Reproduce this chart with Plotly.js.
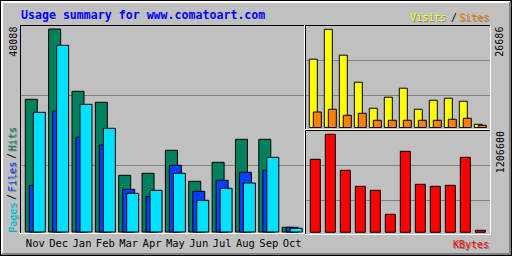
<!DOCTYPE html>
<html>
<head>
<meta charset="utf-8">
<script src="https://cdn.plot.ly/plotly-3.0.1.min.js"></script>
<style>html,body{margin:0;padding:0;background:#C0C0C0;}#chart{width:512px;height:256px;}</style>
</head>
<body>
<div id="chart"></div>
<script>
const months = ['Nov','Dec','Jan','Feb','Mar','Apr','May','Jun','Jul','Aug','Sep','Oct'];
const hits   = [31436,48088,33331,30725,13432,13906,19354,12010,16511,21960,21960,1113];
const files  = [11063,28664,22434,20610,10115,8457,15801,9641,12247,14142,14616,1113];
const pages  = [28356,44228,30251,24566,9168,9878,13906,7509,10352,11608,17696,876];
const visits = [18571,26686,19660,12308,5228,8223,10674,4956,7407,7951,7134,871];
const sites  = [4221,4956,3322,3867,1961,1961,1961,1961,1961,2233,2505,599];
const kbytes = [898800,1206600,763300,566400,517100,221600,997300,591000,566400,578700,923400,24600];
const titleText = 'Usage summary for www.comatoart.com';

const W = 512, H = 256;
const X = px => px / W;
const Y = py => 1 - py / H;
const idx = months.map((_, i) => i);

const C = {hits:'#00805C', files:'#0040FF', pages:'#00E0FF', visits:'#FFFF00', sites:'#FF8000', kbytes:'#FF0000', grid:'#808080', shadow:'#808080'};
const mono = 'DejaVu Sans Mono, monospace';
const line = {color:'#000000', width:1};

// main panel geometry (px)
const mainStep = 23.35, mainC0 = 35.3;
const sideStep = 15, sideC0 = 315.3;

const maxHits = Math.max(...hits), maxVisits = Math.max(...visits), maxKB = Math.max(...kbytes);
const mainUnit = maxHits / (232 - 29);
const topUnit = maxVisits / (127.5 - 29.3);
const botUnit = maxKB / (232.3 - 134.3);

function bar(x, y, color, off, wid, xa, ya) {
  return {type:'bar', x:x, y:y, offset:off, width:wid, marker:{color:color, line:line},
          xaxis:xa, yaxis:ya, hoverinfo:'skip', showlegend:false};
}

const data = [
  bar(idx, hits,  C.hits,  -10/mainStep, 12/mainStep, 'x', 'y'),
  bar(idx, files, C.files, -6/mainStep,  12/mainStep, 'x', 'y'),
  bar(idx, pages, C.pages, -2/mainStep,  12/mainStep, 'x', 'y'),
  bar(idx, visits, C.visits, -6/sideStep, 8/sideStep, 'x2', 'y2'),
  bar(idx, sites,  C.sites,  -2/sideStep, 8/sideStep, 'x2', 'y2'),
  bar(idx, kbytes, C.kbytes, -5/sideStep, 10/sideStep, 'x3', 'y3')
];

const hidden = {showgrid:false, zeroline:false, showline:false, showticklabels:false, ticks:'', fixedrange:true};

const layout = {
  width: W, height: H,
  margin: {l:0, r:0, t:0, b:0, pad:0},
  paper_bgcolor: '#C0C0C0',
  plot_bgcolor: 'rgba(0,0,0,0)',
  barmode: 'overlay',
  showlegend: false,
  xaxis: Object.assign({}, hidden, {
    domain:[X(20), X(304.5)], anchor:'y',
    range:[(20 - mainC0)/mainStep, (304.5 - mainC0)/mainStep],
    showticklabels:true, tickmode:'array', tickvals:idx, ticktext:months,
    tickfont:{family:mono, size:10.5, color:'#000000'}, ticklabelstandoff:2
  }),
  yaxis: Object.assign({}, hidden, {
    domain:[Y(233.5), Y(25)], anchor:'x',
    range:[-(233.5 - 232)*mainUnit, (232 - 25)*mainUnit]
  }),
  xaxis2: Object.assign({}, hidden, {
    domain:[X(305), X(491)], anchor:'y2',
    range:[(305 - sideC0)/sideStep, (491 - sideC0)/sideStep]
  }),
  yaxis2: Object.assign({}, hidden, {
    domain:[Y(129.5), Y(25)], anchor:'x2',
    range:[-(129.5 - 127.5)*topUnit, (127.5 - 25)*topUnit]
  }),
  xaxis3: Object.assign({}, hidden, {
    domain:[X(305), X(491)], anchor:'y3',
    range:[(305 - sideC0)/sideStep, (491 - sideC0)/sideStep]
  }),
  yaxis3: Object.assign({}, hidden, {
    domain:[Y(234.5), Y(130)], anchor:'x3',
    range:[-(234.5 - 232.3)*botUnit, (232.3 - 130)*botUnit]
  }),
  shapes: [],
  annotations: []
};

function hl(x0, x1, py, color, layer) {
  layout.shapes.push({type:'line', xref:'paper', yref:'paper', x0:X(x0), x1:X(x1), y0:Y(py), y1:Y(py),
    line:{color:color, width:1}, layer:layer || 'above'});
}
function vl(px, y0, y1, color, layer) {
  layout.shapes.push({type:'line', xref:'paper', yref:'paper', x0:X(px), x1:X(px), y0:Y(y0), y1:Y(y1),
    line:{color:color, width:1}, layer:layer || 'above'});
}

// gridlines
hl(20, 304, 95.5, C.grid, 'below'); hl(20, 304, 165.5, C.grid, 'below');
hl(305, 490, 60.5, C.grid, 'below'); hl(305, 490, 95.5, C.grid, 'below');
hl(305, 490, 165.5, C.grid, 'below'); hl(305, 490, 200.5, C.grid, 'below');

// outer bevel
hl(0, 512, 0.5, '#000000'); hl(0, 512, 255.5, '#000000');
vl(0.5, 0, 256, '#000000'); vl(511.5, 0, 256, '#000000');
hl(1, 510, 1.5, '#FFFFFF'); hl(1, 509, 2.5, '#FFFFFF');
vl(1.5, 1, 254, '#FFFFFF'); vl(2.5, 1, 253, '#FFFFFF');
hl(1, 511, 254.5, '#808080'); hl(2, 511, 253.5, '#808080');
vl(510.5, 1, 255, '#808080'); vl(509.5, 2, 255, '#808080');

// panel frames
hl(20, 304, 25.5, '#000000'); vl(20.5, 25, 233, '#000000');
hl(20, 305, 233.5, '#FFFFFF'); vl(304.5, 25, 234, '#FFFFFF');
hl(305, 490, 25.5, '#000000'); vl(305.5, 25, 129, '#000000');
hl(305, 491, 129.5, '#FFFFFF'); vl(490.5, 25, 130, '#FFFFFF');
hl(305, 490, 130.5, '#000000'); vl(305.5, 130, 234, '#000000');
hl(305, 491, 234.5, '#FFFFFF'); vl(490.5, 130, 235, '#FFFFFF');

function txt(text, px, py, color, size, opts) {
  opts = opts || {};
  const a = Object.assign({xref:'paper', yref:'paper', x:X(px), y:Y(py), text:text, showarrow:false,
    xanchor:'center', yanchor:'middle', borderpad:0,
    font:{family:mono, size:size, color:color}}, opts);
  if (opts.weight) { a.font.weight = opts.weight; delete a.weight; }
  layout.annotations.push(a);
}
function shadowTxt(text, px, py, color, size, opts) {
  txt(text, px + 1, py + 1, C.shadow, size, opts);
  txt(text, px, py, color, size, opts);
}

// title
txt(titleText, 20, 14.5, '#0000FF', 11.6, {xanchor:'left', weight:'bold'});

// top-right legend
shadowTxt('Visits', 447, 17, C.visits, 10, {xanchor:'right'});
txt('/', 453.5, 17, '#000000', 10);
shadowTxt('Sites', 490, 17, C.sites, 10, {xanchor:'right'});

// KBytes legend
shadowTxt('KBytes', 490, 244, C.kbytes, 10, {xanchor:'right'});

// rotated max labels
txt(String(maxHits), 12.7, 42, '#000000', 10, {textangle:-90});
txt(String(maxVisits), 500, 41.7, '#000000', 10, {textangle:-90});
txt(String(maxKB), 500, 152.2, '#000000', 10, {textangle:-90});

// left legend (rotated)
shadowTxt('Pages', 12.2, 216.7, C.pages, 10, {textangle:-90});
txt('/', 12.2, 196.8, '#000000', 10, {textangle:-90});
shadowTxt('Files', 12.2, 176.5, C.files, 10, {textangle:-90});
txt('/', 12.2, 155.8, '#000000', 10, {textangle:-90});
shadowTxt('Hits', 12.2, 138.7, C.hits, 10, {textangle:-90});

Plotly.newPlot('chart', data, layout, {staticPlot:true, displayModeBar:false});
</script>
</body>
</html>
